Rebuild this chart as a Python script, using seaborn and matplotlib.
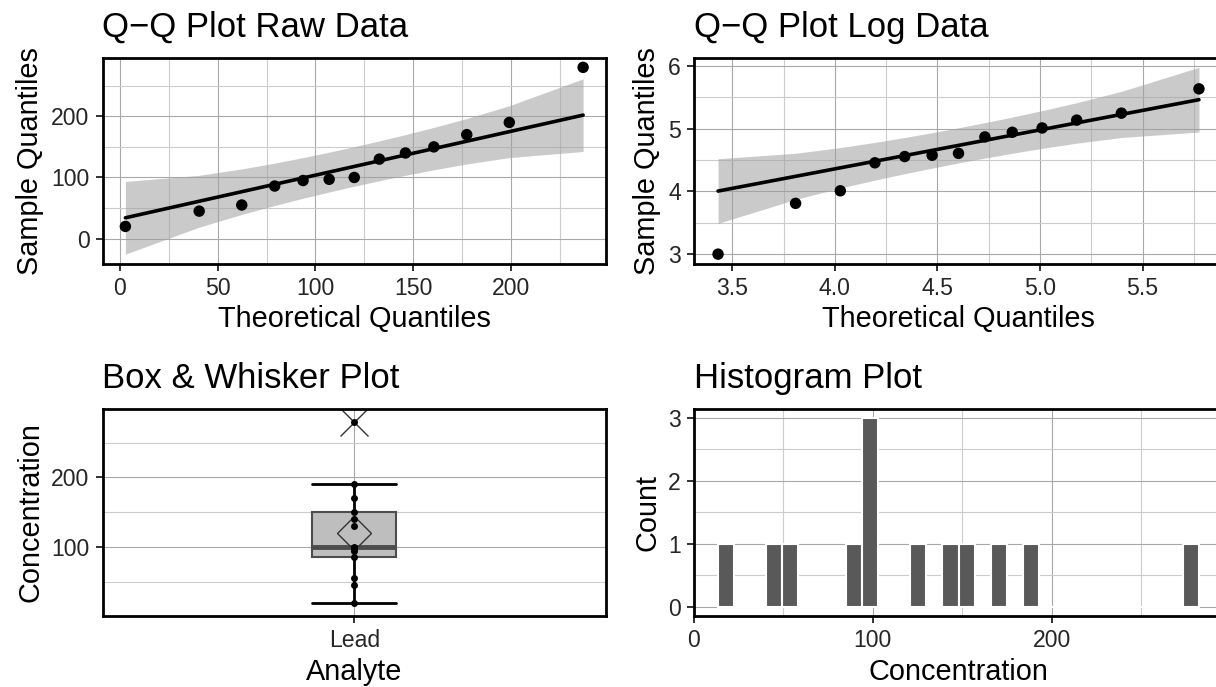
import numpy as np
import pandas as pd
import matplotlib.pyplot as plt
import seaborn as sns
from matplotlib.ticker import MultipleLocator
from statistics import NormalDist

concentration = [20, 45, 55, 86, 95, 97, 100, 130, 140, 150, 170, 190, 280]
analyte = ["Lead"] * len(concentration)

titles = ["Q\u2212Q Plot Raw Data", "Q\u2212Q Plot Log Data",
          "Box & Whisker Plot", "Histogram Plot"]

sns.set_theme(style="white")
plt.rcParams['font.family'] = ['Liberation Sans', 'DejaVu Sans']

W, H = 1216, 687
fig = plt.figure(figsize=(W / 100, H / 100), dpi=100)


def add_panel(l, t, r, b):
    # panel box given in pixels from the top-left corner
    return fig.add_axes([l / W, 1 - b / H, (r - l) / W, (b - t) / H])


def expand(lo, hi, mult=0.05):
    r = hi - lo
    return round(lo - mult * r, 6), round(hi + mult * r, 6)


def qq_frame(values):
    # normal Q-Q with pointwise 95% band (qqplotr style)
    v = np.sort(np.asarray(values, float))
    n = len(v)
    a = 3 / 8 if n <= 10 else 0.5
    p = (np.arange(1, n + 1) - a) / (n + 1 - 2 * a)
    dist = NormalDist(v.mean(), v.std())
    theo = np.array([dist.inv_cdf(q) for q in p])
    q1, q3 = np.percentile(v, [25, 75])
    t1, t3 = dist.inv_cdf(0.25), dist.inv_cdf(0.75)
    slope = (q3 - q1) / (t3 - t1)
    fit = q1 + slope * (theo - t1)
    se = slope / np.array([dist.pdf(t) for t in theo]) * np.sqrt(p * (1 - p) / n)
    zz = NormalDist().inv_cdf(0.975)
    return pd.DataFrame({'theoretical': theo, 'sample': v, 'fit': fit,
                         'lower': fit - zz * se, 'upper': fit + zz * se})


def style(ax, title, xlabel, ylabel):
    ax.set_title(title, loc='left', fontsize=25, pad=15, color='black')
    ax.set_xlabel(xlabel, fontsize=20.8, labelpad=4, color='black')
    ax.set_ylabel(ylabel, fontsize=20.8, labelpad=5, color='black')
    ax.tick_params(which='major', length=5.2, width=1.3, color='#222222',
                   labelsize=16.6, pad=4.2, labelcolor='#262626',
                   bottom=True, left=True)
    ax.tick_params(which='minor', length=0)
    ax.grid(which='major', color='#a8a8a8', lw=0.8)
    ax.grid(which='minor', color='#cccccc', lw=0.8)
    ax.set_axisbelow(True)
    for s in ax.spines.values():
        s.set_linewidth(2)
        s.set_color('black')


def qq_panel(ax, df, title, xmaj, xmin, ymaj, ymin):
    ax.fill_between(df['theoretical'], df['lower'], df['upper'],
                    color='#a0a0a0', alpha=0.55, lw=0)
    sns.lineplot(data=df, x='theoretical', y='fit', color='black', lw=2.6, ax=ax)
    sns.scatterplot(data=df, x='theoretical', y='sample', color='black',
                    s=68, edgecolor='none', ax=ax, zorder=3)
    ax.set_xlim(*expand(df['theoretical'].min(), df['theoretical'].max()))
    ax.set_ylim(*expand(min(df['sample'].min(), df['lower'].min()),
                        max(df['sample'].max(), df['upper'].max())))
    ax.xaxis.set_major_locator(MultipleLocator(xmaj))
    ax.xaxis.set_minor_locator(MultipleLocator(xmin))
    ax.yaxis.set_major_locator(MultipleLocator(ymaj))
    ax.yaxis.set_minor_locator(MultipleLocator(ymin))
    style(ax, title, "Theoretical Quantiles", "Sample Quantiles")


# --- Q-Q raw
ax1 = add_panel(102.5, 58, 606, 263.5)
qq_panel(ax1, qq_frame(concentration), titles[0], 50, 25, 100, 50)

# --- Q-Q log
ax2 = add_panel(694, 58, 1223, 263.5)
qq_panel(ax2, qq_frame(np.log(concentration)), titles[1], 0.5, 0.25, 1, 0.5)

# --- Box & whisker
box_df = pd.DataFrame({'Analyte': analyte, 'Concentration': concentration})
ax3 = add_panel(102.5, 408.5, 606, 616)
sns.boxplot(data=box_df, x='Analyte', y='Concentration', width=0.2,
            color='#bebebe', saturation=1, linecolor='#4d4d4d', linewidth=1.5,
            showmeans=True, capwidths=0.2,
            meanprops=dict(marker='D', markerfacecolor='none',
                           markeredgecolor='#333333', markersize=17,
                           markeredgewidth=1),
            medianprops=dict(color='#4d4d4d', linewidth=3.5),
            whiskerprops=dict(color='black', linewidth=2),
            capprops=dict(color='black', linewidth=2),
            flierprops=dict(marker='x', markersize=20,
                            markeredgecolor='#333333', markeredgewidth=1),
            ax=ax3)
sns.stripplot(data=box_df, x='Analyte', y='Concentration', jitter=False,
              color='black', size=5, ax=ax3, zorder=4)
ax3.set_xlim(-0.6, 0.6)
ax3.set_ylim(1, 299)
ax3.yaxis.set_major_locator(MultipleLocator(100))
ax3.yaxis.set_minor_locator(MultipleLocator(50))
style(ax3, titles[2], "Analyte", "Concentration")

# --- Histogram (ggplot default: 30 bins, right-closed)
bw = (max(concentration) - min(concentration)) / 29
k0 = np.floor((min(concentration) - bw / 2) / bw)
k1 = np.ceil((max(concentration) - bw / 2) / bw)
breaks = bw / 2 + bw * np.arange(k0, k1 + 1)
counts, _ = np.histogram(concentration, breaks + 1e-6)

ax4 = add_panel(694, 408.5, 1223, 616)
sns.histplot(x=concentration, bins=breaks + 1e-6, color='#595959',
             edgecolor='white', linewidth=1.5, alpha=1, ax=ax4)
ax4.set_xlim(*expand(breaks[0], breaks[-1]))
ax4.set_ylim(*expand(0, counts.max()))
ax4.xaxis.set_major_locator(MultipleLocator(100))
ax4.xaxis.set_minor_locator(MultipleLocator(50))
ax4.yaxis.set_major_locator(MultipleLocator(1))
ax4.yaxis.set_minor_locator(MultipleLocator(0.5))
style(ax4, titles[3], "Concentration", "Count")

fig.savefig('out.png', dpi=100)
